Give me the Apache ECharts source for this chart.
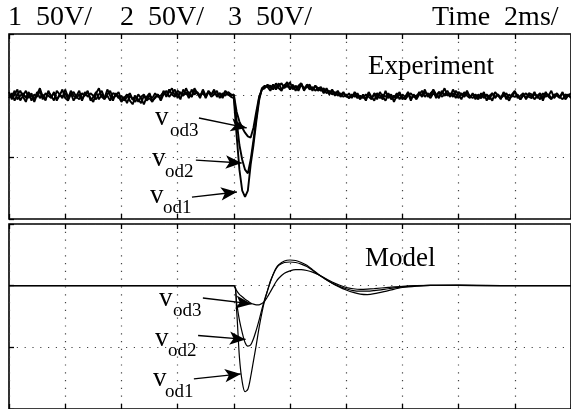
<!DOCTYPE html>
<html>
<head>
<meta charset="utf-8">
<script src="https://cdn.jsdelivr.net/npm/echarts@6/dist/echarts.min.js"></script>
<style>html,body{margin:0;padding:0;background:#fff}#c{width:571px;height:409px}</style>
</head>
<body>
<div id="c"></div>
<script>
// ---------- Data ----------
// Experiment: oscilloscope samples every 0.1 ms (t = index * 0.1 ms), volts
var expDt = 0.1;
var expVod1 = [
103,97,101,105,96,100,104,98,102,95,101,106,99,97,103,100,96,104,101,98,105,99,102,96,100,104,97,101,103,98,95,102,106,99,97,101,104,98,100,103,
96,99,94,100,97,95,101,98,93,99,102,96,98,101,97,
104,99,103,106,100,102,97,105,101,103,99,106,102,100,104,98,103,101,105,99,102,100,104,101,99,
98,68,40,23,18,23,44,60,79,96,106,108,107,
104,109,106,110,105,108,111,106,109,104,108,110,105,107,109,104,108,106,
107,103,106,102,105,101,104,100,103,99,102,98,103,100,97,
101,97,103,99,96,102,100,97,104,98,101,95,100,103,97,99,102,96,101,98,
103,100,105,99,102,104,98,103,101,106,100,102,99,104,101,97,103,100,98,102,
97,101,99,103,96,100,102,98,101,97,103,99,96,101,104,98,100,102,97,101,
99,103,98,101,96,102,100,104,98,101,99,103,97,100,102
];
var expVod2 = [
98,102,96,101,104,99,95,102,100,97,103,98,101,96,104,99,102,97,100,105,98,96,101,103,99,97,102,100,104,96,99,103,97,101,98,105,100,96,102,99,
95,98,101,96,93,99,97,94,100,96,98,95,99,101,96,
101,104,99,102,105,98,103,100,106,101,99,104,102,98,105,100,103,99,101,104,98,102,100,103,101,
100,80,60,48,40,37,48,64,82,98,105,107,108,
108,105,110,106,104,109,107,111,105,108,106,110,104,109,107,105,108,104,
106,102,105,101,104,100,103,99,102,100,98,101,99,102,98,
100,96,102,98,101,97,103,99,96,101,100,98,102,97,101,99,103,98,100,97,
101,104,99,102,100,105,101,98,104,100,102,99,105,101,98,102,100,104,99,101,
100,97,102,98,101,99,96,103,100,98,102,97,101,99,103,100,97,101,98,102,
101,97,100,102,98,103,99,97,101,100,98,102,99,101,98
];
var expVod3 = [
101,99,104,97,100,102,98,103,96,101,99,104,97,102,100,98,103,96,101,99,102,97,104,100,98,101,96,103,99,102,100,97,101,104,98,100,96,102,101,98,
100,96,99,102,97,100,95,99,101,97,100,98,102,99,100,
103,100,105,101,99,104,102,100,103,98,105,101,103,100,102,99,104,101,103,100,102,98,103,101,100,
101,87,79,74,70,67,66,74,87,99,105,106,109,
106,109,105,108,110,106,109,105,108,107,104,109,106,108,105,107,104,106,
104,106,102,104,101,103,100,102,99,101,98,100,101,98,100,
98,101,99,97,102,100,98,101,99,102,97,100,98,101,99,97,100,102,99,100,
102,99,103,101,98,102,100,103,99,101,104,100,102,98,103,101,99,102,100,98,
101,99,98,101,100,97,102,99,101,98,100,102,98,100,99,101,97,100,102,99,
98,101,100,97,102,99,101,98,100,102,99,97,101,100,99
];
// Model: sample times (ms) and volts
var modelT = [0,8.0,8.1,8.2,8.3,8.4,8.5,8.6,8.7,8.8,8.9,9.0,9.1,9.2,9.3,9.4,9.5,9.6,9.8,10.0,10.2,10.4,10.6,10.8,11.0,11.25,11.5,11.75,12.0,12.25,12.5,12.75,13.0,13.5,14.0,14.5,15,16,17,18,20];
var modelVod1 = [100,100,80,42,22,14,16,26,39,52,66,78,88,96,103.6,109,114,117,120,120.8,120.4,118.8,116.5,113,109.5,105.5,102,99,96.5,94.5,93.2,92.8,93.5,96,98.5,99.7,100.3,100.5,100.2,100,100];
var modelVod2 = [100,100,86,72,62,54,51,52,57,64,72,81,89,96,103,109,113.5,116.5,118.8,119.2,118.8,117.5,115.5,112.5,109,105.5,102,99.5,97.5,96,95.5,95.5,96,97.5,99,99.8,100.2,100.3,100.1,100,100];
var modelVod3 = [100,100,96,93,91,89,87.5,86,85,84.5,84.5,85.5,87.5,91,95,99,103,106,110,112,113,113,112.3,111,109,106,103,100.5,98.5,97.5,97,97.2,97.6,98.6,99.5,100,100.2,100.2,100,100,100];
// Annotation arrows [fromT, fromV, toT, toV]
var expArrows = [[6.76,81.9,8.46,73.8],[6.65,47.8,8.28,45.4],[6.51,17.8,8.11,21.9]];
var modelArrows = [[6.90,90,8.64,85.2],[6.73,59.6,8.42,56.4],[6.58,24.4,8.25,28.4]];
var headerTexts = ['1  50V/','2  50V/','3  50V/','Time  2ms/'];
var curveNames = ['od1','od2','od3'];

// ---------- Build ----------
function expPairs(arr){ return arr.map(function(v,i){ return [Math.round(i*expDt*10)/10, v]; }); }
function modelPairs(arr){ return arr.map(function(v,i){ return [modelT[i], v]; }); }
function arrowData(a){ return a.map(function(r){ return [{coord:[r[0],r[1]]},{coord:[r[2],r[3]]}]; }); }

var SERIF = '"Liberation Serif","Times New Roman",serif';
var dotted = {color:'#444', width:1.2, type:[1.2,6.6]};
var grids = [
  {left:9, top:34, width:565, height:185, show:true, borderColor:'#000', borderWidth:1.6, backgroundColor:'transparent'},
  {left:9, top:224, width:565, height:188.5, show:true, borderColor:'#000', borderWidth:1.6, backgroundColor:'transparent'}
];
function xAx(g,pos,split){
  return {type:'value', gridIndex:g, min:0, max:20, interval:2, position:pos,
    axisLine:{show:false}, axisLabel:{show:false},
    axisTick:{show:true, inside:true, length:5, lineStyle:{color:'#000', width:1.3}},
    splitLine:{show:split, lineStyle:dotted}};
}
function yAx(g){
  return {type:'value', gridIndex:g, min:0, max:150, interval:50,
    axisLine:{show:false}, axisLabel:{show:false},
    axisTick:{show:true, inside:true, length:5, lineStyle:{color:'#000', width:1.3}},
    splitLine:{show:true, lineStyle:dotted}};
}
function lineSeries(name, data, g, smooth, width, arrows){
  var s = {name:name, type:'line', xAxisIndex:g*2, yAxisIndex:g, data:data, showSymbol:false, symbol:'none',
    smooth:smooth, lineStyle:{color:'#000', width:width}, animation:false, silent:true};
  if (arrows) {
    s.markLine = {silent:true, animation:false, symbol:['none','arrow'], symbolSize:[10,16],
      lineStyle:{color:'#000', width:1.3, type:'solid'}, label:{show:false}, data:arrowData(arrows)};
  }
  return s;
}

var graphics = [];
var hx = [8, 120, 228, 432];
headerTexts.forEach(function(t,i){
  graphics.push({type:'text', left:hx[i], top:4, style:{text:t, font:'28px '+SERIF, fill:'#000'}});
});
graphics.push({type:'text', left:368, top:53, style:{text:'Experiment', font:'27px '+SERIF, fill:'#000'}});
graphics.push({type:'text', left:365, top:245, style:{text:'Model', font:'27px '+SERIF, fill:'#000'}});
var lblTop = [[150,182,163,199],[152,145,165,163],[155,104,170,122]];
var lblBot = [[153,365,165,383],[155,325,168,342],[159,285,173,302]];
[lblTop, lblBot].forEach(function(L){
  L.forEach(function(p,i){
    graphics.push({type:'text', left:p[0], top:p[1], style:{text:'v', font:'27px '+SERIF, fill:'#000'}});
    graphics.push({type:'text', left:p[2], top:p[3], style:{text:curveNames[i], font:'19px '+SERIF, fill:'#000'}});
  });
});

var chart = echarts.init(document.getElementById('c'), null, {renderer:'canvas'});
chart.setOption({
  animation:false,
  backgroundColor:'#fff',
  grid: grids,
  xAxis: [xAx(0,'bottom',true), xAx(0,'top',false), xAx(1,'bottom',true), xAx(1,'top',false)],
  yAxis: [yAx(0), yAx(1)],
  series: [
    lineSeries('exp vod3', expPairs(expVod3), 0, false, 1.9, null),
    lineSeries('exp vod2', expPairs(expVod2), 0, false, 1.9, null),
    lineSeries('exp vod1', expPairs(expVod1), 0, false, 1.9, expArrows),
    lineSeries('model vod3', modelPairs(modelVod3), 1, 0.3, 1.2, null),
    lineSeries('model vod2', modelPairs(modelVod2), 1, 0.3, 1.2, null),
    lineSeries('model vod1', modelPairs(modelVod1), 1, 0.3, 1.2, modelArrows)
  ],
  graphic: graphics
});
</script>
</body>
</html>
